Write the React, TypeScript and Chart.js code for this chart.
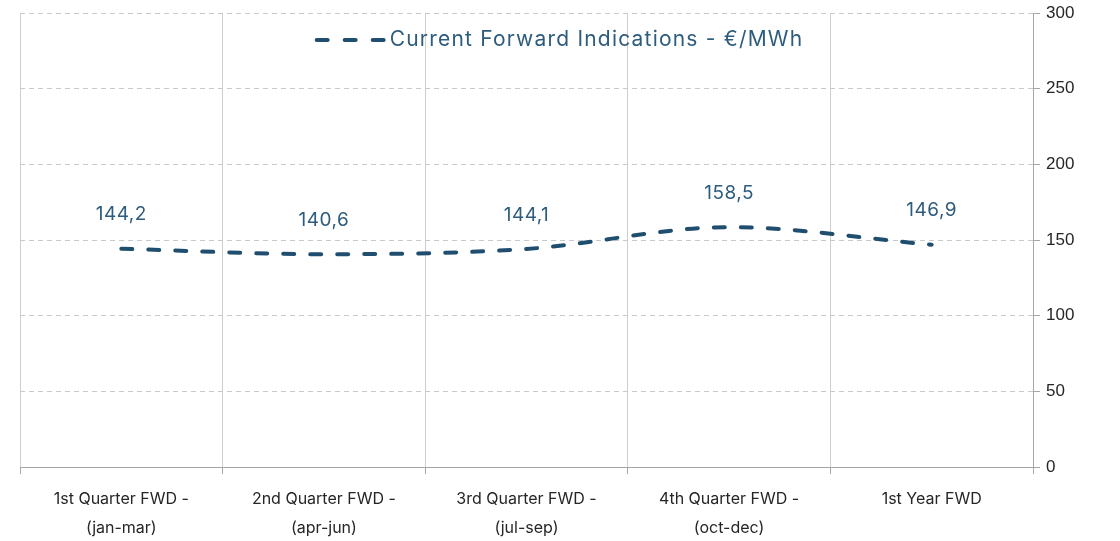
import React, { useEffect, useRef } from "react";
import { Chart, registerables } from "chart.js";

Chart.register(...registerables);

const categories: string[][] = [
  ["1st Quarter FWD -", "(jan-mar)"],
  ["2nd Quarter FWD -", "(apr-jun)"],
  ["3rd Quarter FWD -", "(jul-sep)"],
  ["4th Quarter FWD -", "(oct-dec)"],
  ["1st Year FWD"],
];
const forwardValues: number[] = [144.2, 140.6, 144.1, 158.5, 146.9];
const seriesLabel = "Current Forward Indications - €/MWh";
const yMin = 0;
const yMax = 300;
const yStep = 50;

const LINE_COLOR = "#1F4E6E";
const TEXT_COLOR = "#2E5C7D";
const FONT = "Inter, 'Open Sans', sans-serif";

const overlayPlugin = {
  id: "overlay",
  afterDatasetsDraw(chart: any) {
    const { ctx } = chart;
    const meta = chart.getDatasetMeta(0);
    ctx.save();
    ctx.font = `19px ${FONT}`;
    ctx.fillStyle = TEXT_COLOR;
    ctx.textAlign = "center";
    ctx.textBaseline = "middle";
    (ctx as any).letterSpacing = "0.5px";
    meta.data.forEach((pt: any, i: number) => {
      const v = forwardValues[i];
      ctx.fillText(v.toFixed(1).replace(".", ","), pt.x, pt.y - 34);
    });
    // legend
    ctx.font = `21px ${FONT}`;
    (ctx as any).letterSpacing = "1.2px";
    const textW = ctx.measureText(seriesLabel).width;
    const sampleW = 70;
    const gap = 5;
    const total = sampleW + gap + textW;
    const cx = 559;
    const startX = cx - total / 2;
    const ly = 40;
    ctx.strokeStyle = LINE_COLOR;
    ctx.lineWidth = 4;
    ctx.lineCap = "round";
    ctx.setLineDash([11, 17]);
    ctx.beginPath();
    ctx.moveTo(startX + 2, ly);
    ctx.lineTo(startX + sampleW, ly);
    ctx.stroke();
    ctx.setLineDash([]);
    ctx.textAlign = "left";
    ctx.fillText(seriesLabel, startX + sampleW + gap, ly);
    ctx.restore();
  },
};

export default function App() {
  const ref = useRef<HTMLCanvasElement | null>(null);
  useEffect(() => {
    if (!ref.current) return;
    const chart = new Chart(ref.current, {
      type: "line",
      data: {
        labels: categories,
        datasets: [
          {
            label: seriesLabel,
            data: forwardValues,
            borderColor: LINE_COLOR,
            backgroundColor: LINE_COLOR,
            borderWidth: 4,
            borderDash: [11, 16],
            borderCapStyle: "round",
            pointRadius: 0,
            pointHoverRadius: 0,
            tension: 0.4,
            cubicInterpolationMode: "monotone",
            fill: false,
          },
        ],
      },
      options: {
        responsive: false,
        animation: false,
        layout: { padding: { left: 20, top: 13, right: 0, bottom: 0 } },
        plugins: {
          legend: { display: false },
          tooltip: { enabled: false },
        },
        scales: {
          x: {
            offset: true,
            grid: {
              offset: true,
              color: "#CFCFCF",
              lineWidth: 1,
              drawTicks: true,
              tickLength: 7,
              tickColor: "#A6A6A6",
            },
            border: { display: true, color: "#A6A6A6", width: 1 },
            ticks: {
              color: "#262626",
              font: { family: FONT, size: 16, lineHeight: 1.85 },
              padding: 10,
              maxRotation: 0,
              autoSkip: false,
            },
            afterFit(scale: any) {
              scale.height = 74;
              scale.paddingLeft = 0;
              scale.paddingRight = 0;
            },
          },
          y: {
            position: "right",
            min: yMin,
            max: yMax,
            grid: {
              color: "#C8C8C8",
              lineWidth: 1,
              drawTicks: true,
              tickLength: 7,
              tickColor: "#A6A6A6",
            },
            border: { display: true, color: "#A6A6A6", width: 1, dash: [5, 4] },
            ticks: {
              stepSize: yStep,
              color: "#262626",
              font: { family: "'Liberation Sans', Arial, sans-serif", size: 17 },
              padding: 6,
            },
            afterFit(scale: any) {
              scale.width = 87;
              scale.paddingTop = 0;
              scale.paddingBottom = 0;
            },
          },
        },
      },
      plugins: [overlayPlugin],
    });
    return () => chart.destroy();
  }, []);
  return (
    <div style={{ position: "absolute", left: 0, top: 0, width: 1120, height: 541, background: "#fff" }}>
      <canvas ref={ref} width={1120} height={541} />
    </div>
  );
}
